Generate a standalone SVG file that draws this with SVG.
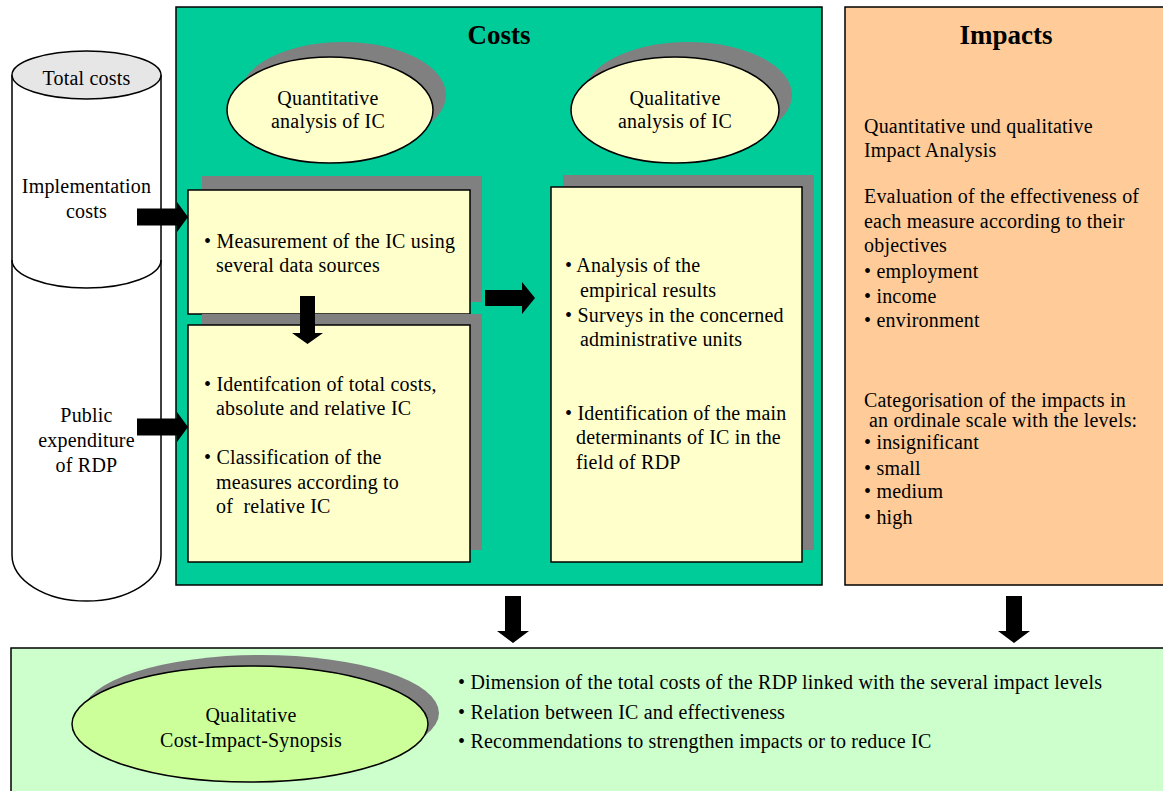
<svg xmlns="http://www.w3.org/2000/svg" width="1163" height="791" viewBox="0 0 1163 791">
<style>
text{font-family:"Liberation Serif","Times New Roman",serif;fill:#000}
.t{font-size:20px;letter-spacing:0.2px}
.c{text-anchor:middle}
.h{font-size:27px;font-weight:bold;text-anchor:middle}
.pan{stroke:#000;stroke-width:1.5}
.box{fill:#FFFFCC;stroke:#000;stroke-width:1.5}
.sh{fill:#808080}
.ell{fill:#FFFFCC;stroke:#000;stroke-width:1.5}
.arr{fill:#000}
</style>
<rect width="1163" height="791" fill="#fff"/>

<g id="cylinder">
  <path d="M12,75 V555 A74.5,46 0 0 0 161,555 V75" fill="#fff" stroke="#000" stroke-width="1.5"/>
  <path d="M12,260 A74.5,28 0 0 0 161,260" fill="none" stroke="#000" stroke-width="1.5"/>
  <ellipse cx="86.5" cy="75" rx="74.5" ry="24" fill="#E6E6E6" stroke="#000" stroke-width="1.5"/>
  <text class="t c" x="86.5" y="85">Total costs</text>
  <text class="t c" x="86.5" y="193">Implementation</text>
  <text class="t c" x="86.5" y="218">costs</text>
  <text class="t c" x="86.5" y="422">Public</text>
  <text class="t c" x="86.5" y="447">expenditure</text>
  <text class="t c" x="86.5" y="472">of RDP</text>
</g>

<g id="costs">
  <rect class="pan" x="176" y="7" width="646" height="578" fill="#00CC99"/>
  <text class="h" x="499" y="44">Costs</text>
</g>

<g id="quantitative">
  <ellipse class="sh" cx="343" cy="95" rx="103" ry="53"/>
  <ellipse class="ell" cx="330" cy="110" rx="103" ry="53"/>
  <text class="t c" x="328" y="105">Quantitative</text>
  <text class="t c" x="328" y="128">analysis of IC</text>
</g>

<g id="qualitative">
  <ellipse class="sh" cx="688" cy="95" rx="104" ry="53"/>
  <ellipse class="ell" cx="675" cy="110" rx="104" ry="53"/>
  <text class="t c" x="675" y="105">Qualitative</text>
  <text class="t c" x="675" y="128">analysis of IC</text>
</g>

<g id="measurement">
  <rect class="sh" x="202" y="176" width="280" height="126"/>
  <rect class="box" x="188" y="190" width="282" height="124"/>
  <text class="t" x="204" y="248">• Measurement of the IC using</text>
  <text class="t" x="216" y="272">several data sources</text>
</g>

<g id="identification">
  <rect class="sh" x="202" y="314" width="280" height="236"/>
  <rect class="box" x="188" y="325" width="282" height="237"/>
  <text class="t" x="204" y="391">• Identifcation of total costs,</text>
  <text class="t" x="216" y="415">absolute and relative IC</text>
  <text class="t" x="204" y="464">• Classification of the</text>
  <text class="t" x="216" y="489">measures according to</text>
  <text class="t" x="216" y="513" xml:space="preserve">of  relative IC</text>
</g>

<g id="analysis">
  <rect class="sh" x="563" y="175" width="251" height="375"/>
  <rect class="box" x="551" y="187" width="251" height="375"/>
  <text class="t" x="565" y="272">• Analysis of the</text>
  <text class="t" x="580" y="297">empirical results</text>
  <text class="t" x="565" y="322">• Surveys in the concerned</text>
  <text class="t" x="580" y="346">administrative units</text>
  <text class="t" x="565" y="420">• Identification of the main</text>
  <text class="t" x="576" y="444">determinants of IC in the</text>
  <text class="t" x="576" y="469">field of RDP</text>
</g>

<g id="impacts">
  <rect class="pan" x="845" y="7" width="330" height="578" fill="#FFCC99"/>
  <text class="h" x="1006" y="44">Impacts</text>
  <text class="t" x="864" y="133">Quantitative und qualitative</text>
  <text class="t" x="864" y="157">Impact Analysis</text>
  <text class="t" x="864" y="203">Evaluation of the effectiveness of</text>
  <text class="t" x="864" y="228">each measure according to their</text>
  <text class="t" x="864" y="252">objectives</text>
  <text class="t" x="864" y="278">• employment</text>
  <text class="t" x="864" y="303">• income</text>
  <text class="t" x="864" y="327">• environment</text>
  <text class="t" x="864" y="407">Categorisation of the impacts in</text>
  <text class="t" x="869" y="427">an ordinale scale with the levels:</text>
  <text class="t" x="864" y="449">• insignificant</text>
  <text class="t" x="864" y="475">• small</text>
  <text class="t" x="864" y="498">• medium</text>
  <text class="t" x="864" y="524">• high</text>
</g>

<g id="synopsis">
  <rect class="pan" x="11" y="648" width="1165" height="150" fill="#CCFFCC"/>
  <ellipse class="sh" cx="261" cy="713" rx="178" ry="58"/>
  <ellipse cx="250" cy="724" rx="178" ry="58" fill="#CCFF99" stroke="#000" stroke-width="1.5"/>
  <text class="t c" x="251" y="722">Qualitative</text>
  <text class="t c" x="251" y="747">Cost-Impact-Synopsis</text>
  <text class="t" x="458" y="689">• Dimension of the total costs of the RDP linked with the several impact levels</text>
  <text class="t" x="458" y="719">• Relation between IC and effectiveness</text>
  <text class="t" x="458" y="748">• Recommendations to strengthen impacts or to reduce IC</text>
</g>

<g id="connectors">
  <path class="arr" d="M137,208.5 H177 V202 L188,217 L177,232 V225.5 H137 Z"/>
  <path class="arr" d="M137,418.5 H177 V412 L188,427 L177,442 V435.5 H137 Z"/>
  <path class="arr" d="M300,296 V333 H292 L307.5,344 L323,333 H315 V296 Z"/>
  <path class="arr" d="M485,290 H522 V282 L535,298 L522,314 V306 H485 Z"/>
  <path class="arr" d="M505,596 V631 H497 L513,643 L529,631 H521 V596 Z"/>
  <path class="arr" d="M1006,596 V631 H998 L1014,643 L1030,631 H1022 V596 Z"/>
</g>
</svg>
